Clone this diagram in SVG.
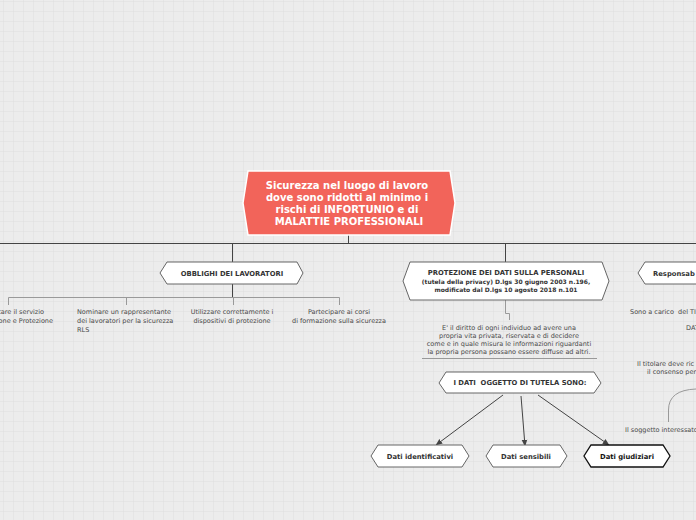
<svg xmlns="http://www.w3.org/2000/svg" width="696" height="520" viewBox="0 0 696 520">
<defs>
<pattern id="grid" x="3" y="1" width="10" height="10" patternUnits="userSpaceOnUse">
<rect width="10" height="10" fill="#ececec"/>
<path d="M0 0H10M0 0V10" stroke="#dedede" stroke-width="1" fill="none"/>
</pattern>
<marker id="arr" viewBox="0 0 10 10" refX="9" refY="5" markerWidth="7" markerHeight="7" orient="auto">
<path d="M0 1L10 5L0 9z" fill="#444"/>
</marker>
<style>
.hx{fill:#fff;stroke:#666;stroke-width:1}
.lb{font-family:"DejaVu Sans",Verdana,sans-serif;font-weight:bold;fill:#333;text-anchor:middle}
.tx{font-family:"DejaVu Sans",Verdana,sans-serif;font-size:6.5px;fill:#4a4a4a}
.main{stroke:#444;stroke-width:1;fill:none}
.sub{stroke:#999;stroke-width:1;fill:none}
</style>
</defs>
<rect width="696" height="520" fill="url(#grid)"/>

<g id="connectors">
<path class="main" d="M348.5 235V243.5M0 243.5H696M232.5 243.5V262M505.5 243.5V262"/>
<path class="main" d="M232.5 284V297.5"/>
<path class="sub" d="M8.5 305V297.5H339.5V305M126.5 297.5V305M233.5 297.5V305"/>
<path class="sub" d="M505.5 300V313.5H509.5V320"/>
<path class="sub" d="M422 358.5H597"/>
<path class="main" d="M503 395L436 445" marker-end="url(#arr)"/>
<path class="main" d="M521 396L525 446" marker-end="url(#arr)"/>
<path class="main" d="M538 395L609 445" marker-end="url(#arr)"/>
<path class="sub" d="M668.5 422V410Q668.5 390 696 389"/>
</g>

<g id="central">
<polygon points="248,171 450,171 455,203 450,235 248,235 243,203" fill="#f2645a" stroke="#fff" stroke-width="1.5"/>
<text class="lb" x="347" y="189" font-size="10" style="fill:#fff">Sicurezza nel luogo di lavoro</text>
<text class="lb" x="347" y="201" font-size="10" style="fill:#fff">dove sono ridotti al minimo i</text>
<text class="lb" x="347" y="213" font-size="10" style="fill:#fff">rischi di INFORTUNIO e di</text>
<text class="lb" x="349" y="225" font-size="10" style="fill:#fff">MALATTIE PROFESSIONALI</text>
</g>

<g id="obblighi">
<polygon class="hx" points="167,262 297,262 303,273 297,284 167,284 160,273"/>
<text class="lb" x="232" y="276" font-size="6.8">OBBLIGHI DEI LAVORATORI</text>
</g>

<g id="obb-1">
<text class="tx" x="44" y="314" text-anchor="end">tare il servizio</text>
<text class="tx" x="53" y="323" text-anchor="end">one e Protezione</text>
</g>
<g id="obb-2">
<text class="tx" x="77" y="314">Nominare un rappresentante</text>
<text class="tx" x="77" y="323">dei lavoratori per la sicurezza</text>
<text class="tx" x="77" y="332">RLS</text>
</g>
<g id="obb-3">
<text class="tx" x="232" y="314" text-anchor="middle">Utilizzare correttamente i</text>
<text class="tx" x="232" y="323" text-anchor="middle">dispositivi di protezione</text>
</g>
<g id="obb-4">
<text class="tx" x="339" y="314" text-anchor="middle">Partecipare ai corsi</text>
<text class="tx" x="339" y="323" text-anchor="middle">di formazione sulla sicurezza</text>
</g>

<g id="protezione">
<polygon class="hx" points="410,262 602,262 609,281 602,300 410,300 403,281"/>
<text class="lb" x="506" y="275" font-size="6.8">PROTEZIONE DEI DATI SULLA PERSONALI</text>
<text class="lb" x="506" y="284" font-size="6">(tutela della privacy) D.lgs 30 giugno 2003 n.196,</text>
<text class="lb" x="506" y="292" font-size="6">modificato dal D.lgs 10 agosto 2018 n.101</text>
</g>

<g id="diritto">
<text class="tx" x="509" y="330" text-anchor="middle">E' il diritto di ogni individuo ad avere una</text>
<text class="tx" x="509" y="338" text-anchor="middle">propria vita privata, riservata e di decidere</text>
<text class="tx" x="509" y="346" text-anchor="middle">come e in quale misura le informazioni riguardanti</text>
<text class="tx" x="509" y="354" text-anchor="middle">la propria persona possano essere diffuse ad altri.</text>
</g>

<g id="oggetto">
<polygon class="hx" points="446,372 594,372 601,383 594,393 446,393 439,383"/>
<text class="lb" x="520" y="385" font-size="6.8" xml:space="preserve">I DATI  OGGETTO DI TUTELA SONO:</text>
</g>

<g id="identificativi">
<polygon class="hx" points="378,445 462,445 469,456 462,467 378,467 371,456"/>
<text class="lb" x="420" y="459" font-size="6.8">Dati identificativi</text>
</g>
<g id="sensibili">
<polygon class="hx" points="493,445 560,445 567,456 560,467 493,467 486,456"/>
<text class="lb" x="526" y="459" font-size="6.8">Dati sensibili</text>
</g>
<g id="giudiziari">
<polygon points="591,445 663,445 670,456 663,467 591,467 584,456" fill="#fff" stroke="#111" stroke-width="1.3"/>
<text class="lb" x="627" y="459" font-size="6.8" style="fill:#111">Dati giudiziari</text>
</g>

<g id="responsabili">
<polygon class="hx" points="645,262 720,262 720,284 645,284 638,273"/>
<text class="lb" x="653" y="276" font-size="6.8" style="text-anchor:start">Responsab</text>
</g>
<g id="resp-texts">
<text class="tx" x="630" y="314" xml:space="preserve">Sono a carico  del TI</text>
<text class="tx" x="686" y="330">DAT</text>
<text class="tx" x="637" y="366">Il titolare deve ric</text>
<text class="tx" x="647" y="374">il consenso per</text>
<text class="tx" x="625" y="432" font-size="5.6">Il soggetto interessato l</text>
</g>
</svg>
